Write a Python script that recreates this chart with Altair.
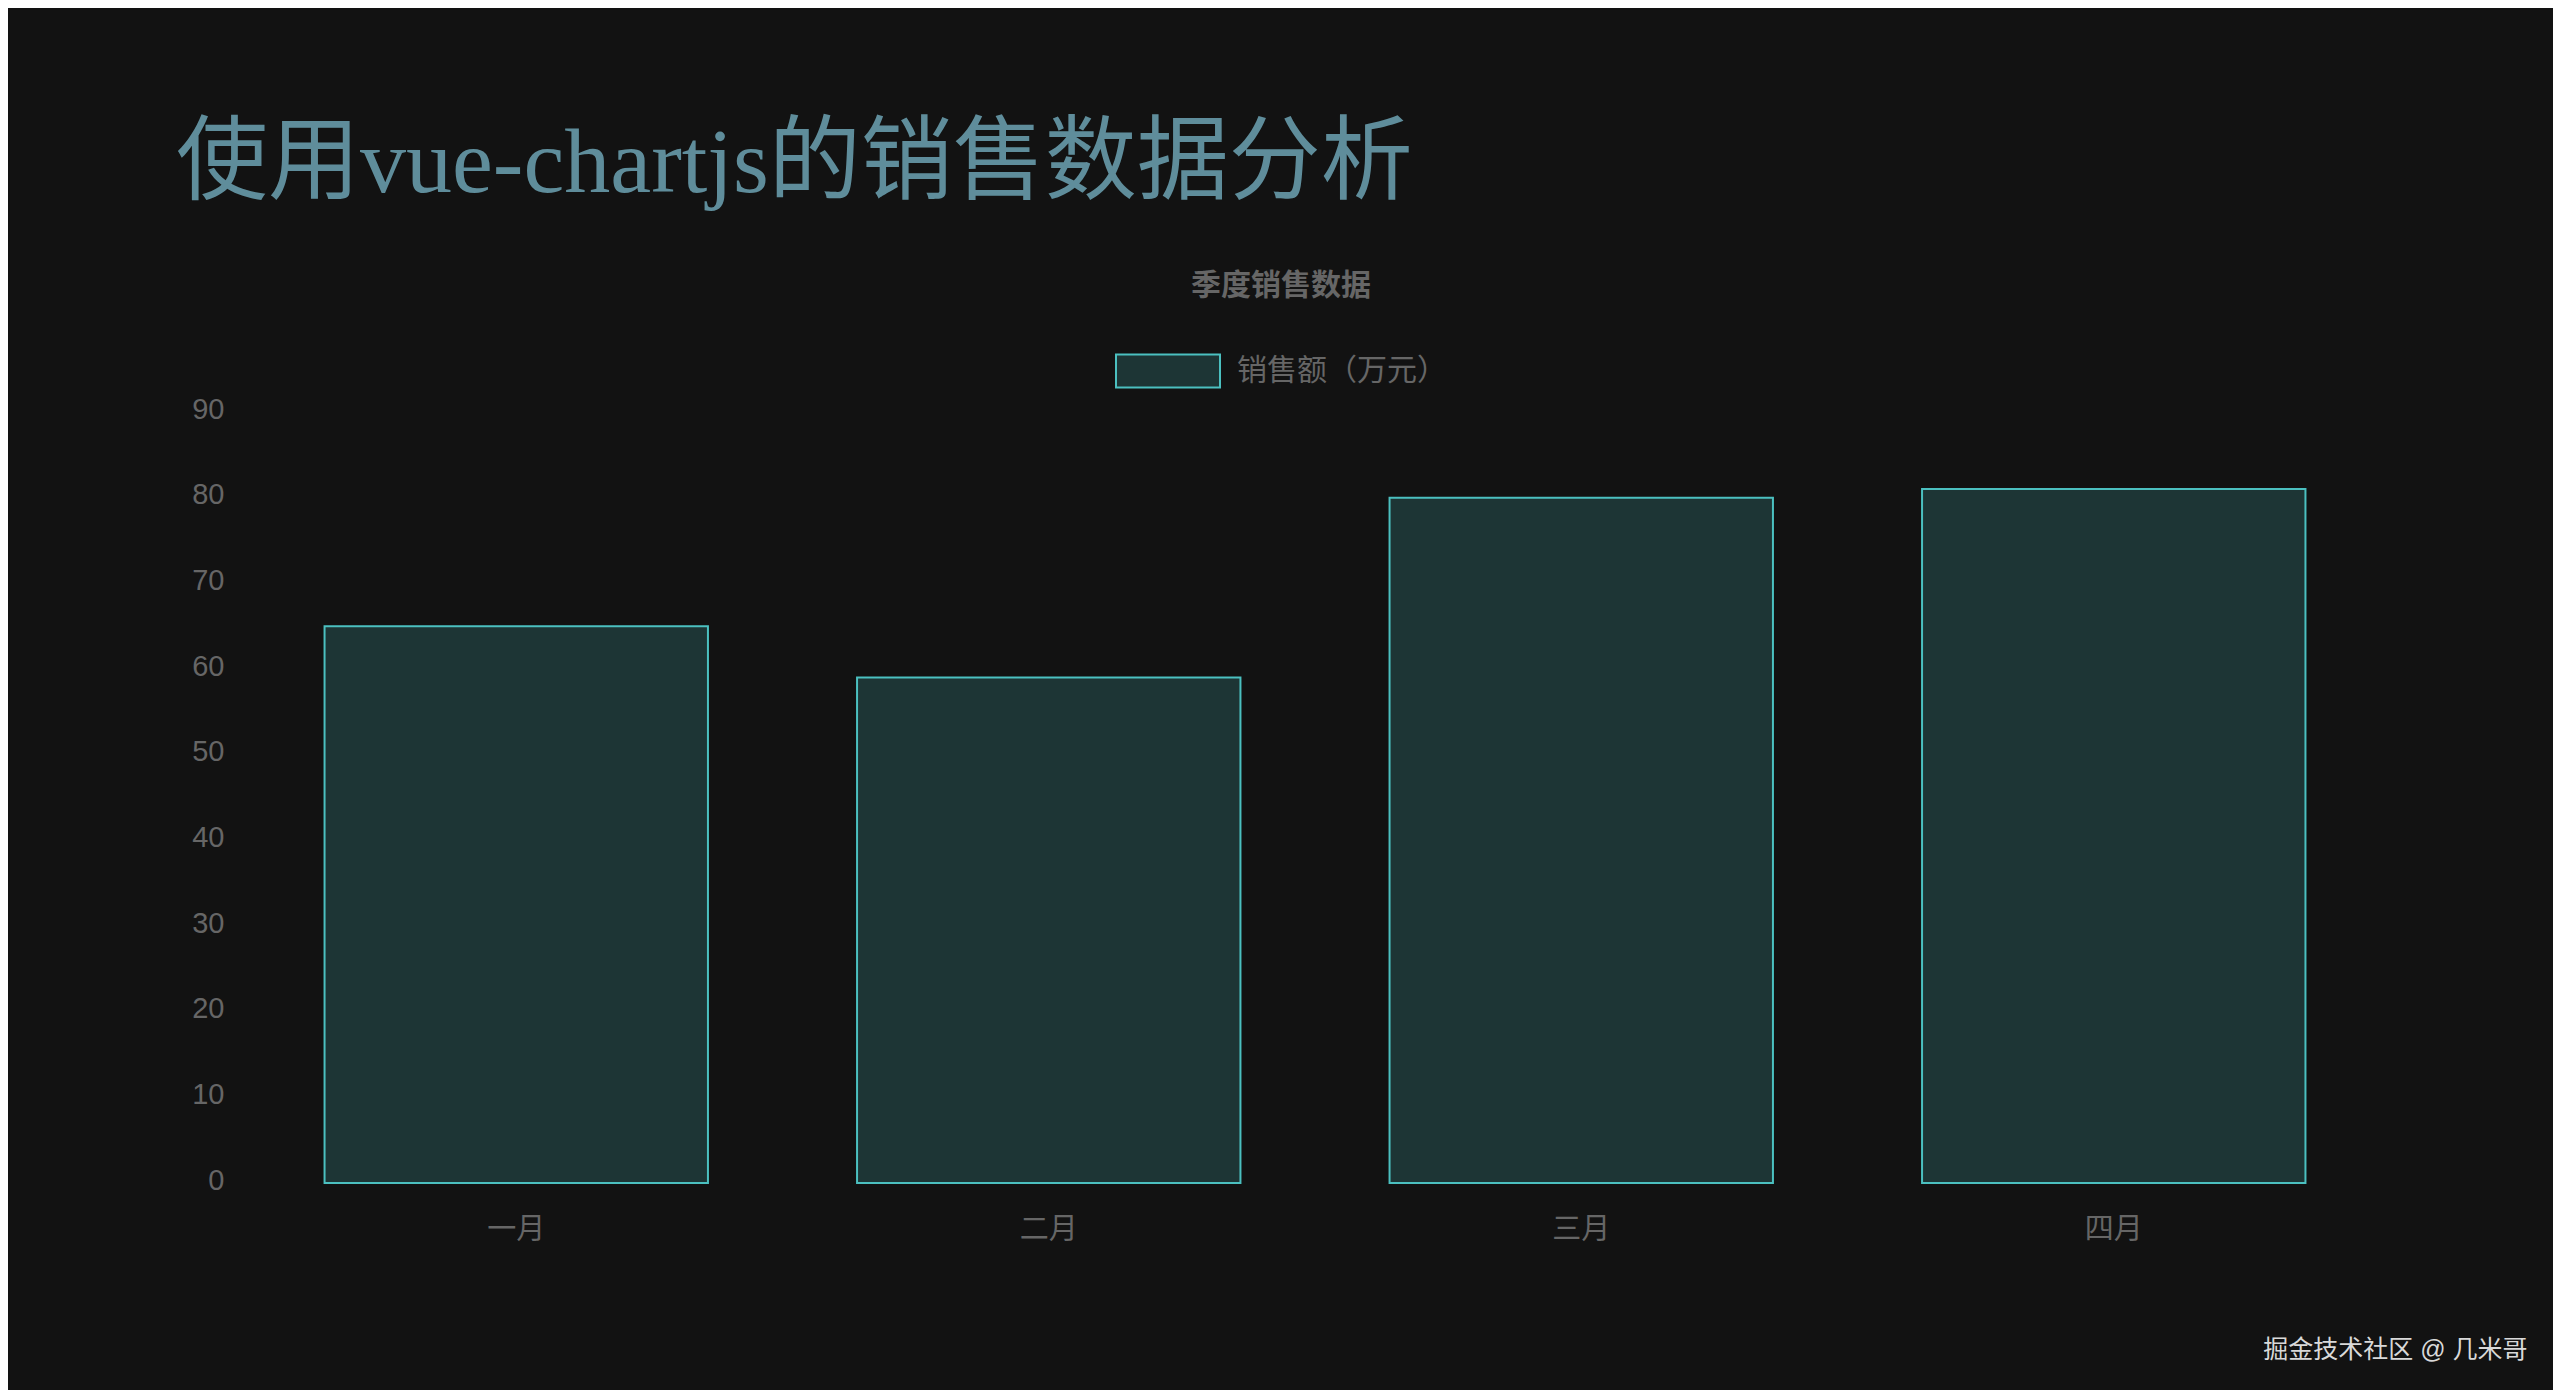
import altair as alt
import pandas as pd

months = ["一月", "二月", "三月", "四月"]
sales = [65, 59, 80, 81]
series_name = "销售额（万元）"
y_ticks = [0, 10, 20, 30, 40, 50, 60, 70, 80, 90]

df = pd.DataFrame({"month": months, "sales": sales, "series": series_name})

sans = "Liberation Sans, Noto Sans CJK SC"
grey = "#666666"

chart = (
    alt.Chart(df)
    .mark_bar(stroke="#4bc0c0", strokeWidth=2, width={"band": 0.72})
    .encode(
        alt.X(
            "month:N",
            sort=months,
            scale=alt.Scale(paddingInner=0, paddingOuter=0),
            axis=alt.Axis(
                title="掘金技术社区 @ 几米哥",
                titleFont=sans,
                titleFontSize=25,
                titleFontWeight="normal",
                titleColor="#d9d9d9",
                titleAnchor="end",
                titleAlign="right",
                titleBaseline="middle",
                titleX=2277,
                titleY=166,
                labelAngle=0,
                labelFont=sans,
                labelFontSize=29,
                labelColor=grey,
                labelPadding=32,
                ticks=False,
                domain=False,
                grid=False,
            ),
        ),
        alt.Y(
            "sales:Q",
            scale=alt.Scale(domain=[0, 90], nice=False),
            axis=alt.Axis(
                title=None,
                values=y_ticks,
                labelFont=sans,
                labelFontSize=29,
                labelColor=grey,
                labelPadding=26,
                labelOffset=-3,
                ticks=False,
                domain=False,
                grid=False,
            ),
        ),
        alt.Fill(
            "series:N",
            scale=alt.Scale(range=["#1d3535"]),
            legend=alt.Legend(
                title="季度销售数据",
                orient="none",
                legendX=865,
                legendY=-141,
                titleFont=sans,
                titleFontSize=30,
                titleFontWeight="bold",
                titleColor=grey,
                titleAnchor="middle",
                titleAlign="center",
                titlePadding=17,
                symbolType="M-1,-0.317H1V0.317H-1Z",
                symbolSize=10816,
                symbolStrokeColor="#4bc0c0",
                symbolStrokeWidth=2,
                symbolOpacity=1,
                labelFont=sans,
                labelFontSize=30,
                labelColor=grey,
                labelOffset=16,
                labelLimit=0,
            ),
        ),
    )
    .properties(
        width=2130,
        height=771,
        background="#121212",
        padding={"left": 242, "top": 404, "right": 173, "bottom": 207},
        autosize=alt.AutoSizeParams(type="none"),
        title=alt.TitleParams(
            "使用vue-chartjs的销售数据分析",
            anchor="start",
            frame="group",
            dx=-74,
            offset=60,
            font="Liberation Serif, Noto Sans CJK SC",
            fontSize=92,
            fontWeight="normal",
            color="#5f8d9b",
        ),
    )
    .configure_view(stroke=None)
)

chart.save("out.html", embed_options={"renderer": "svg", "actions": False})
